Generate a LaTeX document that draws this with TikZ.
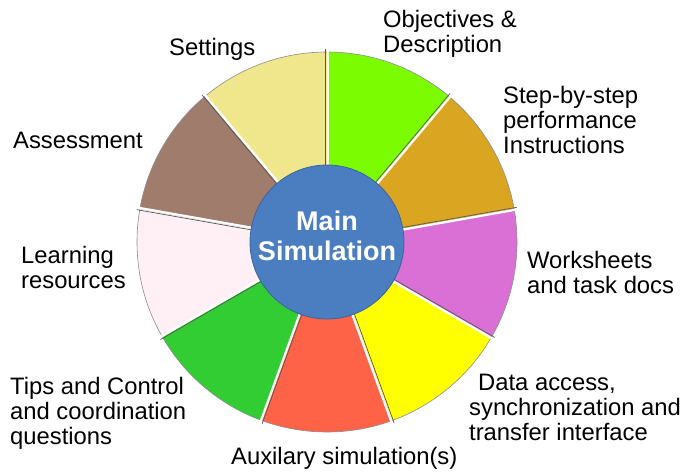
\documentclass[tikz,border=0pt]{standalone}
\usepackage{fontspec}
\setmainfont{Liberation Sans}
\usepackage{tikz}

\definecolor{objgreen}{RGB}{124,252,0}
\definecolor{stepgold}{RGB}{218,165,32}
\definecolor{sheetpink}{RGB}{218,112,214}
\definecolor{datayellow}{RGB}{255,255,0}
\definecolor{auxred}{RGB}{255,99,71}
\definecolor{tipsgreen}{RGB}{50,205,50}
\definecolor{learnpink}{RGB}{255,240,245}
\definecolor{assessbrown}{RGB}{160,124,108}
\definecolor{setkhaki}{RGB}{240,230,140}
\definecolor{mainblue}{RGB}{74,126,193}

\tikzset{
	lbl/.style={anchor=north west, inner sep=0pt, align=left, font=\fontsize{23.8}{25}\selectfont},
	gapw/.style={white, line width=2.2pt},
	gapd/.style={black!65, line width=0.7pt},
	rim/.style={black!45, line width=0.6pt}
}

\begin{document}
\begin{tikzpicture}[x=1pt,y=1pt]
	\useasboundingbox (0,0) rectangle (681,472);
	
	\coordinate (c) at (327,230);
	
	\fill[objgreen]    (c) -- ++(50:190)   arc[start angle=50,   end angle=90,   radius=190] -- cycle;
	\fill[stepgold]    (c) -- ++(10:190)   arc[start angle=10,   end angle=50,   radius=190] -- cycle;
	\fill[sheetpink]   (c) -- ++(-30:190)  arc[start angle=-30,  end angle=10,   radius=190] -- cycle;
	\fill[datayellow]  (c) -- ++(-70:190)  arc[start angle=-70,  end angle=-30,  radius=190] -- cycle;
	\fill[auxred]      (c) -- ++(-110:190) arc[start angle=-110, end angle=-70,  radius=190] -- cycle;
	\fill[tipsgreen]   (c) -- ++(-150:190) arc[start angle=-150, end angle=-110, radius=190] -- cycle;
	\fill[learnpink]   (c) -- ++(170:190)  arc[start angle=170,  end angle=210,  radius=190] -- cycle;
	\fill[assessbrown] (c) -- ++(130:190)  arc[start angle=130,  end angle=170,  radius=190] -- cycle;
	\fill[setkhaki]    (c) -- ++(90:190)   arc[start angle=90,   end angle=130,  radius=190] -- cycle;
	\draw[rim] (c) circle[radius=190];
	
	% gaps between the sectors
	\draw[gapw] (c) ++(0:1)    -- ++(90:193);
	\draw[gapd] (c) ++(180:1.2) -- ++(90:193);
	\draw[gapw] (c) ++(-40:1)  -- ++(50:193);
	\draw[gapd] (c) ++(140:1.2) -- ++(50:193);
	\draw[gapw] (c) ++(-80:1)  -- ++(10:193);
	\draw[gapd] (c) ++(100:1.2) -- ++(10:193);
	\draw[gapw] (c) ++(-120:1) -- ++(-30:193);
	\draw[gapd] (c) ++(60:1.2)  -- ++(-30:193);
	\draw[gapw] (c) ++(-160:1) -- ++(-70:193);
	\draw[gapd] (c) ++(20:1.2)  -- ++(-70:193);
	\draw[gapw] (c) ++(160:1)  -- ++(-110:193);
	\draw[gapd] (c) ++(-20:1.2) -- ++(-110:193);
	\draw[gapw] (c) ++(120:1)  -- ++(-150:193);
	\draw[gapd] (c) ++(-60:1.2) -- ++(-150:193);
	\draw[gapw] (c) ++(80:1)   -- ++(170:193);
	\draw[gapd] (c) ++(-100:1.2) -- ++(170:193);
	\draw[gapw] (c) ++(40:1)   -- ++(130:193);
	\draw[gapd] (c) ++(-140:1.2) -- ++(130:193);
	
	\node[shape=circle, fill=mainblue, draw=mainblue!80!black, line width=0.8pt, minimum size=154pt, inner sep=0pt] (main) at (c) {};
	\node[align=center, text=white, font=\fontsize{27}{30}\selectfont\bfseries] (maintext) at (327,236) {Main\\Simulation};
	
	\node[lbl] (obj)    at (383,462) {Objectives \&\\Description};
	\node[lbl] (step)   at (503,386) {Step-by-step\\performance\\Instructions};
	\node[lbl] (sheets) at (527,221) {Worksheets\\and task docs};
	\node[lbl] (data)   at (469,98)  {\hspace*{9pt}Data access,\\synchronization and\\transfer interface};
	\node[lbl] (aux)    at (231,25)  {Auxilary simulation(s)};
	\node[lbl] (tips)   at (10,95)   {Tips and Control\\and coordination\\questions};
	\node[lbl] (learn)  at (21,226)  {Learning\\resources};
	\node[lbl] (assess) at (13,340)  {Assessment};
	\node[lbl] (set)    at (169,434) {Settings};
\end{tikzpicture}
\end{document}
